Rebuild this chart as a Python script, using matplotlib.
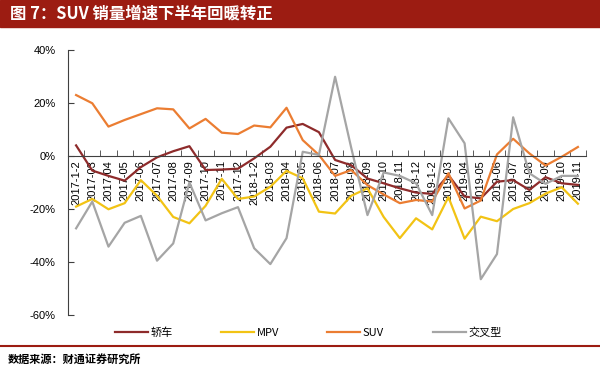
import matplotlib
matplotlib.use('Agg')
import matplotlib.pyplot as plt
from matplotlib.lines import Line2D
from matplotlib.patches import Rectangle

categories = ['2017-1-2', '2017-03', '2017-04', '2017-05', '2017-06', '2017-07', '2017-08',
              '2017-09', '2017-10', '2017-11', '2017-12', '2018-1-2', '2018-03', '2018-04',
              '2018-05', '2018-06', '2018-07', '2018-08', '2018-09', '2018-10', '2018-11',
              '2018-12', '2019-1-2', '2019-03', '2019-04', '2019-05', '2019-06', '2019-07',
              '2019-08', '2019-09', '2019-10', '2019-11']
sedan = [4.0, -5.5, -7.5, -9.3, -4.2, -0.5, 1.8, 3.7, -5.3, -5.1, -4.8, -0.9, 3.5, 10.7,
         12.1, 9.0, -1.5, -3.5, -8.5, -10.3, -12.2, -13.8, -14.3, -7.2, -15.3, -16.0, -9.7,
         -9.1, -12.8, -8.0, -10.3, -10.9]
mpv = [-19.1, -16.2, -20.1, -17.8, -9.1, -15.0, -23.0, -25.4, -18.8, -8.6, -16.2, -15.3,
       -11.6, -5.6, -8.4, -21.0, -21.7, -15.0, -12.2, -23.0, -31.0, -23.5, -27.7, -15.5,
       -31.2, -22.9, -24.6, -20.0, -17.8, -14.2, -11.8, -18.0]
suv = [23.0, 19.9, 11.1, 13.6, 15.8, 18.0, 17.6, 10.4, 14.0, 8.8, 8.3, 11.5, 10.8, 18.2,
       6.0, 0.4, -7.5, -5.3, -11.0, -14.5, -17.8, -16.6, -17.2, -6.5, -19.8, -16.8, 0.6,
       6.5, 1.0, -3.6, -0.3, 3.4]
crossover = [-27.3, -17.2, -34.2, -25.2, -22.6, -39.5, -33.0, -10.0, -24.3, -21.6, -19.3,
             -34.8, -40.8, -31.0, 1.6, 0.4, 29.9, 3.0, -22.3, -6.2, -7.5, -10.3, -22.3,
             14.2, 4.8, -46.5, -37.0, 14.6, -6.5, -10.5, -7.5, -7.5]
series_names = ['轿车', 'MPV', 'SUV', '交叉型']
yticks = [40, 20, 0, -20, -40, -60]

title = '图 7：SUV 销量增速下半年回暖转正'
source = '数据来源：财通证券研究所'

colors = ['#8E2B2B', '#F2C314', '#EB7D32', '#A5A5A5']
dark_red = '#9C1C12'
cjk = ['Noto Sans CJK SC', 'DejaVu Sans']

plt.rcParams['font.family'] = ['Liberation Sans', 'Noto Sans CJK SC', 'DejaVu Sans']

fig = plt.figure(figsize=(6, 3.71), dpi=100)
W, H = 600, 371
ax = fig.add_axes([68 / W, 1 - 315 / H, 518 / W, 265 / H])

x = list(range(len(categories)))
all_series = [sedan, mpv, suv, crossover]
for vals, c, n in zip(all_series, colors, series_names):
    ax.plot(x, vals, color=c, lw=1.6, label=n)

ax.set_xlim(-0.5, len(categories) - 0.5)
ax.set_ylim(-60, 40)
ax.set_yticks(yticks)
ax.set_yticklabels([f'{v}%' for v in yticks])
ax.spines['bottom'].set_position(('data', 0))
ax.spines['top'].set_visible(False)
ax.spines['right'].set_visible(False)
for s in ['bottom', 'left']:
    ax.spines[s].set_color('#404040')
    ax.spines[s].set_linewidth(0.8)
ax.set_xticks(x)
ax.set_xticklabels(categories, rotation=90, fontsize=8)
ax.set_xticks([i - 0.5 for i in range(len(categories) + 1)], minor=True)
ax.tick_params(axis='x', which='major', length=0, pad=3)
ax.tick_params(axis='x', which='minor', direction='in', length=4, color='#404040')
ax.tick_params(axis='y', direction='in', length=4, labelsize=8, pad=9, color='#404040')

# title bar
fig.patches.append(Rectangle((0, 1 - 27 / H), 1, 27 / H, transform=fig.transFigure,
                             color=dark_red, zorder=0))
fig.text(10 / W, 1 - 14 / H, title, color='white', fontsize=11.8, fontweight='bold',
         va='center', ha='left', family=cjk)

# legend
leg_x = [115, 221, 327, 433]
for xs, c, n in zip(leg_x, colors, series_names):
    fig.legend(handles=[Line2D([], [], color=c, lw=1.6)], labels=[n], loc='center left',
               bbox_to_anchor=(xs / W, 1 - 333 / H), frameon=False, handlelength=3,
               handletextpad=0.2, borderpad=0, borderaxespad=0,
               prop={'family': cjk, 'size': 8})

# bottom rule and source
fig.add_artist(Line2D([0, 1], [1 - 346 / H] * 2, transform=fig.transFigure,
                      color=dark_red, lw=1.5))
fig.text(8 / W, 1 - 359 / H, source, fontsize=8, fontweight='bold', va='center',
         ha='left', family=cjk)

fig.savefig('out.png', dpi=100)
